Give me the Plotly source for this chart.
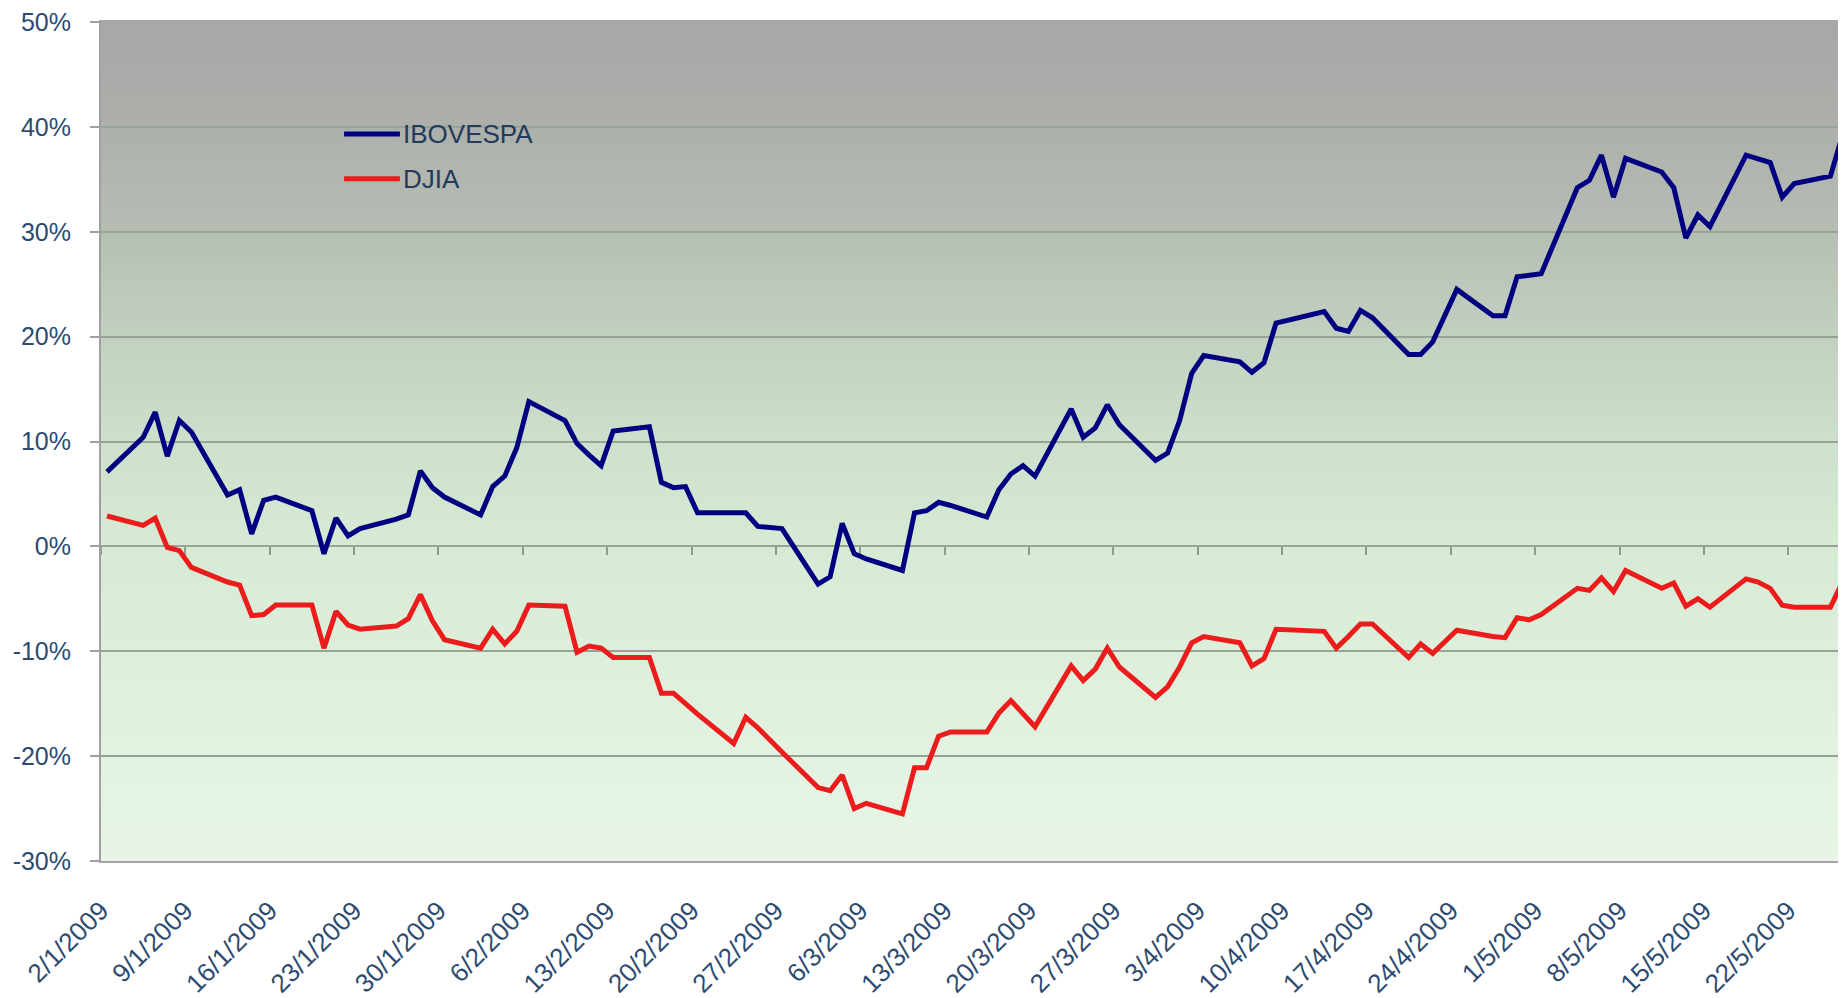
import pandas as pd
import plotly.graph_objects as go

# trading days, Jan-May 2009
dates = [
    "2009-01-02", "2009-01-05", "2009-01-06", "2009-01-07", "2009-01-08", "2009-01-09",
    "2009-01-12", "2009-01-13", "2009-01-14", "2009-01-15", "2009-01-16",
    "2009-01-19", "2009-01-20", "2009-01-21", "2009-01-22", "2009-01-23",
    "2009-01-26", "2009-01-27", "2009-01-28", "2009-01-29", "2009-01-30",
    "2009-02-02", "2009-02-03", "2009-02-04", "2009-02-05", "2009-02-06",
    "2009-02-09", "2009-02-10", "2009-02-11", "2009-02-12", "2009-02-13",
    "2009-02-16", "2009-02-17", "2009-02-18", "2009-02-19", "2009-02-20",
    "2009-02-23", "2009-02-24", "2009-02-25", "2009-02-26", "2009-02-27",
    "2009-03-02", "2009-03-03", "2009-03-04", "2009-03-05", "2009-03-06",
    "2009-03-09", "2009-03-10", "2009-03-11", "2009-03-12", "2009-03-13",
    "2009-03-16", "2009-03-17", "2009-03-18", "2009-03-19", "2009-03-20",
    "2009-03-23", "2009-03-24", "2009-03-25", "2009-03-26", "2009-03-27",
    "2009-03-30", "2009-03-31", "2009-04-01", "2009-04-02", "2009-04-03",
    "2009-04-06", "2009-04-07", "2009-04-08", "2009-04-09",
    "2009-04-13", "2009-04-14", "2009-04-15", "2009-04-16", "2009-04-17",
    "2009-04-20", "2009-04-21", "2009-04-22", "2009-04-23", "2009-04-24",
    "2009-04-27", "2009-04-28", "2009-04-29", "2009-04-30", "2009-05-01",
    "2009-05-04", "2009-05-05", "2009-05-06", "2009-05-07", "2009-05-08",
    "2009-05-11", "2009-05-12", "2009-05-13", "2009-05-14", "2009-05-15",
    "2009-05-18", "2009-05-19", "2009-05-20", "2009-05-21", "2009-05-22",
    "2009-05-25", "2009-05-26",
]

# cumulative change since 2/1/2009 (%)
ibovespa = [
    7.1, 10.4, 12.8, 8.6, 12.0, 10.9,
    4.9, 5.4, 1.2, 4.4, 4.7,
    3.4, -0.7, 2.7, 1.0, 1.7,
    2.6, 3.0, 7.2, 5.6, 4.7,
    3.0, 5.7, 6.7, 9.4, 13.8,
    12.0, 9.8, 8.7, 7.7, 11.0,
    11.4, 6.1, 5.6, 5.7, 3.2,
    3.2, 3.2, 1.9, 1.8, 1.7,
    -3.6, -2.9, 2.2, -0.7, -1.2,
    -2.3, 3.2, 3.4, 4.2, 3.9,
    2.8, 5.4, 6.9, 7.7, 6.7,
    13.1, 10.4, 11.3, 13.5, 11.6,
    8.2, 8.9, 12.0, 16.5, 18.2,
    17.6, 16.6, 17.5, 21.3,
    22.4, 20.8, 20.5, 22.5, 21.8,
    18.3, 18.3, 19.5, 22.0, 24.5,
    22.0, 22.0, 25.7, 25.9, 26.0,
    34.2, 34.9, 37.3, 33.3, 37.0,
    35.7, 34.2, 29.4, 31.6, 30.5,
    37.3, 37.0, 36.6, 33.3, 34.6,
    35.3, 39.2,
]

djia = [
    2.9, 2.0, 2.7, -0.1, -0.4, -2.0,
    -3.4, -3.7, -6.6, -6.5, -5.6,
    -5.6, -9.7, -6.2, -7.5, -7.9,
    -7.6, -6.9, -4.6, -7.1, -8.9,
    -9.7, -7.9, -9.3, -8.1, -5.6,
    -5.7, -10.1, -9.5, -9.7, -10.6,
    -10.6, -14.0, -14.0, -15.0, -16.0,
    -18.8, -16.3, -17.3, -18.5, -19.6,
    -23.0, -23.3, -21.8, -25.0, -24.5,
    -25.5, -21.1, -21.1, -18.1, -17.7,
    -17.7, -15.9, -14.7, -15.9, -17.2,
    -11.4, -12.8, -11.7, -9.7, -11.5,
    -14.4, -13.4, -11.5, -9.2, -8.6,
    -9.2, -11.4, -10.7, -7.9,
    -8.1, -9.7, -8.6, -7.4, -7.4,
    -10.6, -9.3, -10.2, -9.1, -8.0,
    -8.6, -8.7, -6.8, -7.0, -6.5,
    -4.0, -4.2, -3.0, -4.3, -2.3,
    -4.0, -3.5, -5.7, -5.0, -5.8,
    -3.1, -3.4, -4.0, -5.6, -5.8,
    -5.8, -3.4,
]

tick_labels = [
    "2/1/2009", "9/1/2009", "16/1/2009", "23/1/2009", "30/1/2009", "6/2/2009",
    "13/2/2009", "20/2/2009", "27/2/2009", "6/3/2009", "13/3/2009", "20/3/2009",
    "27/3/2009", "3/4/2009", "10/4/2009", "17/4/2009", "24/4/2009", "1/5/2009",
    "8/5/2009", "15/5/2009", "22/5/2009",
]
y_ticks = [-30, -20, -10, 0, 10, 20, 30, 40, 50]
y_tick_labels = ["-30%", "-20%", "-10%", "0%", "10%", "20%", "30%", "40%", "50%"]

series_names = ["IBOVESPA", "DJIA"]
series_colors = ["#000080", "#ec1c1c"]

# points sit in the middle of each day slot, like Excel's date axis
x = pd.to_datetime(dates) + pd.Timedelta(hours=12)
tick_days = pd.to_datetime(tick_labels, format="%d/%m/%Y")
x_range = [pd.Timestamp("2009-01-02"), pd.Timestamp("2009-05-26 19:00")]

TEXT = "#2d4a70"
GRID = "#97a395"
FONT = "Liberation Sans, Arial, sans-serif"

fig = go.Figure()
for name, vals, col in zip(series_names, [ibovespa, djia], series_colors):
    fig.add_trace(go.Scatter(x=x, y=vals, name=name, mode="lines",
                             line=dict(color=col, width=5)))
# invisible helper so the tick-mark axis at 0% gets drawn
fig.add_trace(go.Scatter(x=x, y=djia, xaxis="x2", mode="lines",
                         line=dict(color="rgba(0,0,0,0)"), showlegend=False,
                         hoverinfo="skip"))

# vertical gradient behind the plot: grey at the top to pale green at the bottom
stops = [(0.0, (167, 167, 167)), (0.12, (172, 175, 170)), (0.25, (182, 190, 180)),
         (0.375, (194, 208, 192)), (0.5, (205, 224, 203)), (0.625, (214, 234, 212)),
         (0.75, (221, 239, 219)), (1.0, (232, 245, 231))]


def grad(f):
    for (f0, c0), (f1, c1) in zip(stops, stops[1:]):
        if f <= f1:
            t = (f - f0) / (f1 - f0)
            return "rgb(%d,%d,%d)" % tuple(round(a + (b - a) * t) for a, b in zip(c0, c1))
    return "rgb(%d,%d,%d)" % stops[-1][1]


n = 140
for i in range(n):
    fig.add_shape(type="rect", xref="paper", yref="paper", x0=0, x1=1,
                  y0=1 - (i + 1) / n - 0.002, y1=1 - i / n,
                  fillcolor=grad((i + 0.5) / n), line_width=0, layer="below")

# legend drawn by hand, with the long line samples of the original
for k, (name, col) in enumerate(zip(series_names, series_colors)):
    yk = 0.8664 - k * 0.0532
    fig.add_shape(type="line", xref="paper", yref="paper", x0=0.1393, x1=0.1713,
                  y0=yk, y1=yk, line=dict(color=col, width=5))
    fig.add_annotation(xref="paper", yref="paper", x=0.1722, y=yk, text=name,
                       showarrow=False, xanchor="left", yanchor="middle",
                       font=dict(size=26, color="#233a5c"))

# the page has an 8px body margin, so the figure is 8px smaller than the window
fig.update_layout(
    width=1838, height=990,
    margin=dict(l=93, r=0, t=14, b=130),
    paper_bgcolor="white", plot_bgcolor="rgba(0,0,0,0)",
    font=dict(family=FONT, color=TEXT),
    showlegend=False,
    xaxis=dict(type="date", range=x_range,
               tickvals=tick_days, ticktext=tick_labels,
               tickangle=-45, tickfont=dict(size=26, color=TEXT),
               ticks="", ticklabelstandoff=22, ticklabeloverflow="allow",
               showgrid=False, zeroline=False,
               showline=True, mirror=True, linecolor="#a6a6a6", linewidth=2),
    xaxis2=dict(type="date", range=x_range, overlaying="x", anchor="free",
                position=0.375, tickvals=tick_days, ticks="outside", ticklen=8,
                tickwidth=1.5, tickcolor="#8e9a8c", showticklabels=False,
                showgrid=False, zeroline=False, showline=False,
                layer="below traces"),
    yaxis=dict(range=[-30, 50], tickvals=y_ticks, ticktext=y_tick_labels,
               tickfont=dict(size=25, color=TEXT),
               ticks="outside", ticklen=9, tickcolor="#a0a0a0", tickwidth=1.5,
               ticklabelstandoff=14, ticklabeloverflow="allow",
               showgrid=True, gridcolor=GRID, gridwidth=1.5,
               zeroline=True, zerolinecolor=GRID, zerolinewidth=2,
               showline=True, linecolor="#a0a0a0", linewidth=2),
)

fig.write_html("out.html")
